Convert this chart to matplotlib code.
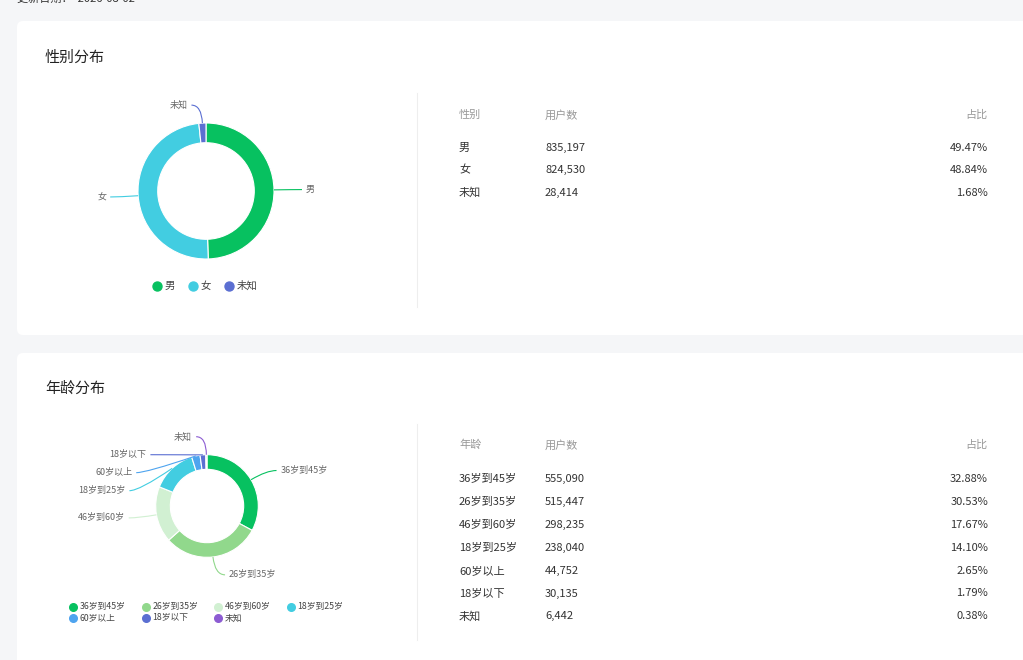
import matplotlib
matplotlib.use('Agg')
import matplotlib.pyplot as plt
import numpy as np
from matplotlib.patches import FancyBboxPatch, PathPatch
from matplotlib.path import Path

plt.rcParams['font.family'] = ['Noto Sans CJK SC', 'DejaVu Sans']

W, H = 1023, 660

update_date = '2026-08-02'

# gender data
gender_labels = ['男', '女', '未知']
gender_counts = [835197, 824530, 28414]
gender_pct = ['49.47%', '48.84%', '1.68%']
gender_colors = ['#07c160', '#42cde1', '#5b6fd2']

# age data
age_labels = ['36岁到45岁', '26岁到35岁', '46岁到60岁', '18岁到25岁', '60岁以上', '18岁以下', '未知']
age_counts = [555090, 515447, 298235, 238040, 44752, 30135, 6442]
age_pct = ['32.88%', '30.53%', '17.67%', '14.10%', '2.65%', '1.79%', '0.38%']
age_colors = ['#07c160', '#91d88c', '#d1f0d2', '#42cde1', '#4ea4ef', '#5b6fd2', '#8c5cd2']

fig = plt.figure(figsize=(W / 100, H / 100), dpi=100)
fig.patch.set_facecolor('#f5f6f8')
bg = fig.add_axes([0, 0, 1, 1])
bg.set_xlim(0, W)
bg.set_ylim(H, 0)
bg.axis('off')

# cards
for top, h in [(21, 314), (353, 400)]:
    bg.add_patch(FancyBboxPatch((17, top), 1100, h, boxstyle='round,pad=0,rounding_size=6',
                                fc='white', ec='none'))
bg.plot([417, 417], [93, 307], color='#eeeeee', lw=0.8)
bg.plot([417, 417], [424, 640], color='#eeeeee', lw=0.8)

bg.text(17, -1, '更新日期：  ' + update_date, fontsize=8, color='#333333', va='center')
bg.text(45, 58, '性别分布', fontsize=10.8, color='#222222', va='center')
bg.text(45, 389, '年龄分布', fontsize=10.8, color='#222222', va='center')


def draw_table(head, labels, counts, pcts, y_head, y0, step):
    hc = '#999999'
    bg.text(459, y_head, head, fontsize=8, color=hc, va='center')
    bg.text(545, y_head, '用户数', fontsize=8, color=hc, va='center')
    bg.text(988, y_head, '占比', fontsize=8, color=hc, va='center', ha='right')
    for i, (lab, c, p) in enumerate(zip(labels, counts, pcts)):
        y = y0 + i * step
        bg.text(459, y, lab, fontsize=8, color='#333333', va='center')
        bg.text(545, y, f'{c:,}', fontsize=8, color='#333333', va='center')
        bg.text(988, y, p, fontsize=8, color='#333333', va='center', ha='right')


draw_table('性别', gender_labels, gender_counts, gender_pct, 115, 148, 22.4)
draw_table('年龄', age_labels, age_counts, age_pct, 445, 479, 22.9)


def donut(cx, cy, r, width, values, colors, labels, half=160, len1=18, len2=10, gap=18, fs=6.5):
    ax = fig.add_axes([(cx - half) / W, 1 - (cy + half) / H, 2 * half / W, 2 * half / H])
    ax.pie(values, colors=colors, startangle=90, counterclock=False, radius=1,
           wedgeprops=dict(width=width, edgecolor='white', linewidth=0.8))
    lim = half / r
    ax.set_xlim(-lim, lim)
    ax.set_ylim(-lim, lim)
    ax.set_aspect('equal')
    ax.axis('off')

    # label layout in pixels (y downward), then convert to pie units
    total = float(sum(values))
    edges = np.cumsum([0] + list(values)) / total
    mids = np.radians(90 - 360 * (edges[:-1] + edges[1:]) / 2)
    R2 = r + len1
    items = []
    for i, t in enumerate(mids):
        side = 1 if np.cos(t) >= 0 else -1
        items.append({'i': i, 't': t, 'side': side, 'y': cy - R2 * np.sin(t)})
    for side in (1, -1):
        grp = sorted([it for it in items if it['side'] == side], key=lambda d: d['y'])
        for a, b in zip(grp, grp[1:]):
            if b['y'] - a['y'] < gap:
                b['y'] = a['y'] + gap

    def conv(px, py):
        return ((px - cx) / r, (cy - py) / r)

    for it in items:
        t, s = it['t'], it['side']
        x0, y0 = cx + r * np.cos(t), cy - r * np.sin(t)
        dy = it['y'] - cy
        x1 = cx + s * np.sqrt(max(R2 ** 2 - dy ** 2, 0))
        y1 = it['y']
        x2 = x1 + s * len2
        verts = [conv(x0, y0), conv(x1, y1), conv(x2, y1)]
        path = Path(verts, [Path.MOVETO, Path.CURVE3, Path.CURVE3])
        ax.add_patch(PathPatch(path, fc='none', ec=colors[it['i']], lw=0.8, clip_on=False))
        tx, ty = conv(x2 + s * 4, y1)
        ax.text(tx, ty, labels[it['i']], fontsize=fs, color='#666666', va='center',
                ha='left' if s > 0 else 'right', clip_on=False)
    return ax


donut(206, 191, 68, 0.29, gender_counts, gender_colors, gender_labels)
donut(207, 506, 51.3, 0.285, age_counts, age_colors, age_labels)

# gender legend
x = 157
for lab, col in zip(gender_labels, gender_colors):
    bg.scatter([x], [286], s=42, color=col, zorder=3)
    bg.text(x + 8, 286, lab, fontsize=7.5, color='#444444', va='center')
    x += 26 + 10 * len(lab)

# age legend
for i, (lab, col) in enumerate(zip(age_labels, age_colors)):
    lx = 73 + (i % 4) * 72.5
    ly = 606.5 + (i // 4) * 11.3
    bg.scatter([lx], [ly], s=30, color=col, zorder=3)
    bg.text(lx + 7, ly, lab, fontsize=6.3, color='#444444', va='center')

fig.savefig('out.png', dpi=100, facecolor=fig.get_facecolor())
